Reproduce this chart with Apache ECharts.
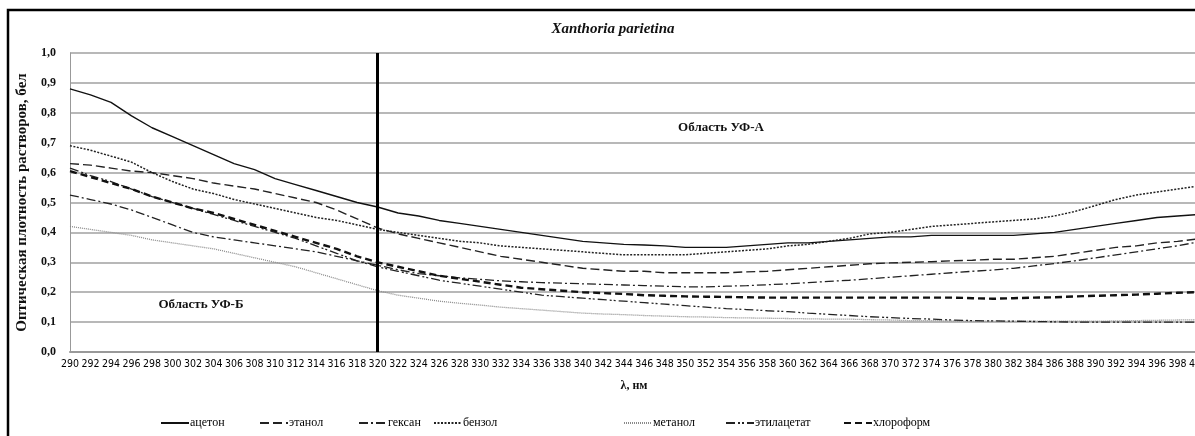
<!DOCTYPE html>
<html><head><meta charset="utf-8">
<script src="https://cdn.jsdelivr.net/npm/echarts@6/dist/echarts.min.js"></script>
<style>html,body{margin:0;padding:0;background:#fff}#c{width:1195px;height:436px}</style>
</head><body><div id="c"></div>
<script>
const wavelengths = [];
for (let w = 290; w <= 400; w += 2) wavelengths.push(String(w));

const seriesNames = ['ацетон','этанол','гексан','бензол','метанол','этилацетат','хлороформ'];

const acetone = [0.88,0.86,0.835,0.79,0.75,0.72,0.69,0.66,0.63,0.61,0.58,0.56,0.54,0.52,0.50,0.485,0.465,0.455,0.44,0.43,0.42,0.41,0.40,0.39,0.38,0.37,0.365,0.36,0.358,0.355,0.35,0.35,0.35,0.355,0.36,0.365,0.365,0.37,0.375,0.38,0.385,0.385,0.39,0.39,0.39,0.39,0.39,0.395,0.40,0.41,0.42,0.43,0.44,0.45,0.455,0.46];
const ethanol = [0.63,0.625,0.615,0.605,0.60,0.59,0.58,0.565,0.555,0.545,0.53,0.515,0.50,0.475,0.445,0.415,0.395,0.38,0.365,0.35,0.335,0.32,0.31,0.30,0.29,0.28,0.275,0.27,0.27,0.265,0.265,0.265,0.265,0.268,0.27,0.275,0.28,0.285,0.29,0.295,0.298,0.30,0.302,0.305,0.307,0.31,0.31,0.315,0.32,0.33,0.34,0.35,0.355,0.365,0.37,0.378];
const hexane = [0.525,0.51,0.495,0.475,0.45,0.425,0.40,0.385,0.375,0.365,0.355,0.345,0.335,0.32,0.305,0.29,0.275,0.262,0.255,0.248,0.243,0.238,0.235,0.232,0.23,0.228,0.226,0.224,0.222,0.22,0.218,0.218,0.22,0.222,0.225,0.228,0.232,0.236,0.24,0.245,0.25,0.255,0.26,0.265,0.27,0.274,0.28,0.288,0.296,0.305,0.315,0.325,0.335,0.345,0.355,0.368];
const benzene = [0.69,0.675,0.655,0.635,0.60,0.57,0.545,0.53,0.51,0.495,0.48,0.465,0.45,0.44,0.425,0.41,0.40,0.39,0.38,0.37,0.365,0.355,0.35,0.345,0.34,0.335,0.33,0.325,0.325,0.325,0.325,0.33,0.335,0.34,0.345,0.355,0.36,0.37,0.38,0.395,0.40,0.41,0.42,0.425,0.43,0.435,0.44,0.445,0.455,0.47,0.49,0.51,0.525,0.535,0.545,0.555];
const methanol = [0.42,0.41,0.40,0.39,0.375,0.365,0.355,0.345,0.33,0.315,0.30,0.285,0.265,0.245,0.225,0.205,0.19,0.18,0.17,0.163,0.157,0.15,0.145,0.14,0.135,0.13,0.127,0.125,0.122,0.12,0.118,0.117,0.115,0.114,0.113,0.112,0.111,0.11,0.11,0.108,0.107,0.105,0.105,0.104,0.103,0.103,0.103,0.103,0.103,0.103,0.103,0.104,0.105,0.106,0.107,0.108];
const ethylAcetate = [0.615,0.59,0.57,0.545,0.52,0.50,0.48,0.46,0.44,0.42,0.40,0.38,0.355,0.33,0.305,0.285,0.27,0.255,0.24,0.23,0.22,0.21,0.20,0.19,0.185,0.18,0.175,0.17,0.165,0.16,0.155,0.15,0.145,0.142,0.138,0.135,0.13,0.126,0.122,0.118,0.115,0.112,0.11,0.107,0.105,0.104,0.103,0.102,0.101,0.10,0.10,0.10,0.10,0.10,0.10,0.10];
const chloroform = [0.605,0.585,0.565,0.545,0.52,0.50,0.48,0.465,0.445,0.425,0.405,0.385,0.365,0.345,0.32,0.30,0.285,0.27,0.255,0.245,0.235,0.225,0.215,0.21,0.205,0.20,0.197,0.194,0.19,0.188,0.186,0.185,0.184,0.183,0.182,0.182,0.182,0.182,0.182,0.182,0.182,0.182,0.182,0.182,0.18,0.178,0.18,0.182,0.183,0.186,0.188,0.19,0.192,0.195,0.198,0.20];

const yTicks = [0,0.1,0.2,0.3,0.4,0.5,0.6,0.7,0.8,0.9,1.0];
const dividerAt = '320';

const allData = [acetone, ethanol, hexane, benzene, methanol, ethylAcetate, chloroform];
const styles = [
  {color:'#111', width:1.4, type:'solid'},
  {color:'#222', width:1.4, type:[9,4]},
  {color:'#222', width:1.3, type:[9,3,2,3]},
  {color:'#222', width:1.5, type:[2,1.5]},
  {color:'#8a8a8a', width:1.3, type:[1,1]},
  {color:'#222', width:1.3, type:[9,3,2,2,2,3]},
  {color:'#111', width:2.4, type:[7,4]}
];
const legendLeft = [155, 254, 353, 428, 618, 720, 838];

const serif = "'Liberation Serif','Times New Roman',serif";
const narrow = "'DejaVu Sans Condensed','Liberation Sans Narrow',sans-serif";

const series = seriesNames.map((n,i) => {
  const s = {
    name: n, type: 'line', data: allData[i], symbol: 'none', smooth: false,
    lineStyle: {color: styles[i].color, width: styles[i].width, type: styles[i].type},
    itemStyle: {color: 'rgba(0,0,0,0)', borderWidth: 0},
    z: 3, silent: true, animation: false
  };
  if (i === 0) {
    s.markLine = {
      silent: true, symbol: ['none','none'], label: {show:false},
      lineStyle: {color:'#000', width:3, type:'solid'},
      data: [{xAxis: dividerAt}], animation: false
    };
  }
  return s;
});

const legends = seriesNames.map((n,i) => ({
  data: [n], left: legendLeft[i], top: 412, itemWidth: 28, itemHeight: 10, itemGap: 0,
  itemStyle: {color: 'rgba(0,0,0,0)', borderWidth: 0, opacity: 0},
  textStyle: {fontFamily: serif, fontSize: 12, color: '#000', padding:[0,0,0,-4]}
}));

const chart = echarts.init(document.getElementById('c'), null, {renderer:'canvas'});
chart.setOption({
  animation: false,
  backgroundColor: '#fff',
  grid: {left: 70, right: -3, top: 53, bottom: 84, containLabel: false, outerBoundsMode: 'none'},
  title: {
    text: 'Xanthoria parietina', left: 608, top: 17, textAlign: 'center',
    textStyle: {fontFamily: serif, fontSize: 15, fontWeight: 'bold', fontStyle: 'italic', color: '#111'}
  },
  legend: legends,
  xAxis: {
    type: 'category', data: wavelengths, boundaryGap: false,
    name: 'λ, нм', nameLocation: 'middle', nameGap: 28,
    nameTextStyle: {fontFamily: serif, fontSize: 12, fontWeight: 'bold', color: '#111'},
    axisLine: {show: true, lineStyle: {color: '#999', width: 2}},
    axisTick: {show: false},
    axisLabel: {interval: 0, fontFamily: narrow, fontSize: 10.5, color: '#000', margin: 7},
    splitLine: {show: false}
  },
  yAxis: {
    type: 'value', min: 0, max: 1, interval: 0.1,
    name: 'Оптическая плотность растворов, бел', nameLocation: 'middle', nameGap: 40, nameRotate: 90,
    nameTextStyle: {fontFamily: serif, fontSize: 15, fontWeight: 'bold', color: '#111'},
    axisLine: {show: true, lineStyle: {color: '#999', width: 1}},
    axisTick: {show: false},
    axisLabel: {fontFamily: serif, fontSize: 12, fontWeight: 'bold', color: '#111', margin: 14,
      formatter: v => yTicks.indexOf(+v.toFixed(1)) >= 0 ? v.toFixed(1).replace('.', ',') : ''},
    splitLine: {show: true, lineStyle: {color: '#a0a0a0', width: 1.6}}
  },
  graphic: [
    {type:'rect', shape:{x:8, y:10, width:1400, height:600}, style:{fill:'none', stroke:'#000', lineWidth:2.5}, z: 100, silent:true},
    {type:'text', x:201, y:305, style:{text:'Область УФ-Б', font:"bold 13px "+serif, fill:'#111', textAlign:'center', textVerticalAlign:'middle'}, z: 100},
    {type:'text', x:721, y:128, style:{text:'Область УФ-А', font:"bold 13px "+serif, fill:'#111', textAlign:'center', textVerticalAlign:'middle'}, z: 100}
  ],
  series: series
});
</script></body></html>
